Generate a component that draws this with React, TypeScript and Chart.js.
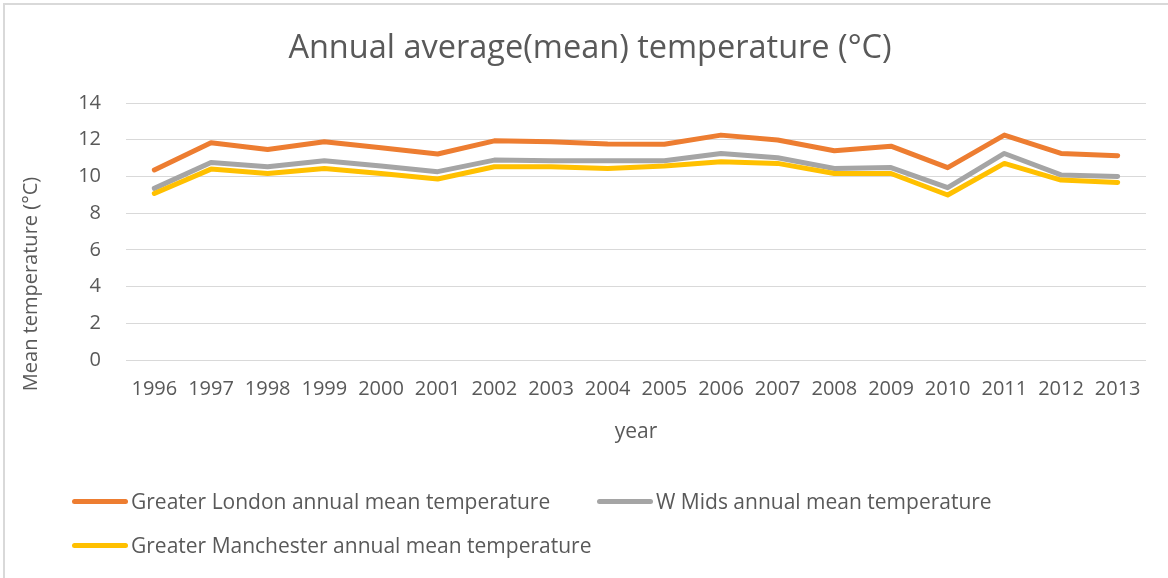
import React, { useEffect, useRef } from "react";
import { Chart, registerables } from "chart.js";

Chart.register(...registerables);

const years = ["1996","1997","1998","1999","2000","2001","2002","2003","2004","2005","2006","2007","2008","2009","2010","2011","2012","2013"];
const london = [10.35, 11.83, 11.47, 11.89, 11.56, 11.22, 11.94, 11.89, 11.76, 11.75, 12.25, 11.98, 11.40, 11.65, 10.48, 12.25, 11.25, 11.13];
const wMids = [9.35, 10.76, 10.53, 10.85, 10.57, 10.26, 10.89, 10.85, 10.85, 10.85, 11.25, 11.02, 10.43, 10.48, 9.39, 11.25, 10.08, 10.0];
const manchester = [9.07, 10.4, 10.16, 10.43, 10.16, 9.86, 10.53, 10.53, 10.43, 10.57, 10.8, 10.71, 10.16, 10.16, 8.99, 10.71, 9.8, 9.67];
const seriesNames = [
  "Greater London annual mean temperature",
  "W Mids annual mean temperature",
  "Greater Manchester annual mean temperature",
];
const colors = ["#ED7D31", "#A5A5A5", "#FFC000"];
const chartTitle = "Annual average(mean) temperature (°C)";
const yTitle = "Mean temperature (°C)";
const xTitle = "year";

const FONT = "'Open Sans', sans-serif";
const TEXT = "#595959";

const yTitlePlugin = {
  id: "yTitlePlugin",
  afterDraw(chart: any) {
    const ctx = chart.ctx;
    ctx.save();
    ctx.translate(31, 284);
    ctx.rotate(-Math.PI / 2);
    ctx.font = `20px ${FONT}`;
    ctx.fillStyle = TEXT;
    ctx.textAlign = "center";
    ctx.textBaseline = "middle";
    ctx.fillText(yTitle, 0, 0);
    ctx.restore();
  },
};

export default function App() {
  const ref = useRef<HTMLCanvasElement>(null);
  useEffect(() => {
    document.body.style.margin = "0";
    const canvas = ref.current;
    if (!canvas) return;
    const data = [london, wMids, manchester];
    const chart = new Chart(canvas, {
      type: "line",
      data: {
        labels: years,
        datasets: data.map((d, i) => ({
          label: seriesNames[i],
          data: d,
          borderColor: colors[i],
          backgroundColor: colors[i],
          borderWidth: 5,
          pointRadius: 0,
          pointHoverRadius: 0,
          tension: 0,
          borderJoinStyle: "round" as const,
          borderCapStyle: "round" as const,
          order: 2 - i,
        })),
      },
      options: {
        animation: false,
        responsive: false,
        devicePixelRatio: 1,
        layout: { padding: { left: 34, right: 22, top: 0, bottom: 133.4 } },
        plugins: {
          legend: { display: false },
          tooltip: { enabled: false },
          title: {
            display: true,
            text: chartTitle,
            color: TEXT,
            font: { family: FONT, size: 32.5, weight: "normal" },
            padding: { top: 29, bottom: 35 },
          },
        },
        scales: {
          x: {
            offset: true,
            grid: { display: false, drawTicks: false },
            border: { display: false },
            ticks: {
              color: TEXT,
              font: { family: FONT, size: 20 },
              padding: 17,
              maxRotation: 0,
              autoSkip: false,
            },
            title: {
              display: true,
              text: xTitle,
              color: TEXT,
              font: { family: FONT, size: 21 },
              padding: { top: 1.4, bottom: 0 },
            },
          },
          y: {
            min: 0,
            max: 14,
            afterFit(scale: any) {
              scale.width = 92;
            },
            grid: { color: "#D9D9D9", lineWidth: 1, drawTicks: false },
            border: { display: false },
            ticks: {
              stepSize: 2,
              color: TEXT,
              font: { family: FONT, size: 20 },
              padding: 25,
            },
          },
        },
      },
      plugins: [yTitlePlugin],
    });
    return () => chart.destroy();
  }, []);

  const legendItem = (i: number, left: number, top: number) => (
    <div
      key={i}
      style={{ position: "absolute", left, top, display: "flex", alignItems: "center", height: 30 }}
    >
      <span
        style={{
          display: "inline-block",
          width: 56,
          height: 5,
          borderRadius: 3,
          background: colors[i],
          marginRight: 3,
        }}
      />
      <span style={{ fontFamily: FONT, fontSize: 21, color: TEXT, whiteSpace: "nowrap" }}>
        {seriesNames[i]}
      </span>
    </div>
  );

  return (
    <div style={{ position: "fixed", left: 0, top: 0, width: 1168, height: 578, background: "#fff", overflow: "hidden" }}>
      <canvas ref={ref} width={1168} height={578} style={{ position: "absolute", left: 0, top: 0 }} />
      <div
        style={{
          position: "absolute",
          left: 3,
          top: 3,
          width: 1200,
          height: 620,
          border: "2px solid #D9D9D9",
          boxSizing: "border-box",
          pointerEvents: "none",
        }}
      />
      {legendItem(0, 72, 486)}
      {legendItem(1, 597, 486)}
      {legendItem(2, 72, 530)}
    </div>
  );
}
